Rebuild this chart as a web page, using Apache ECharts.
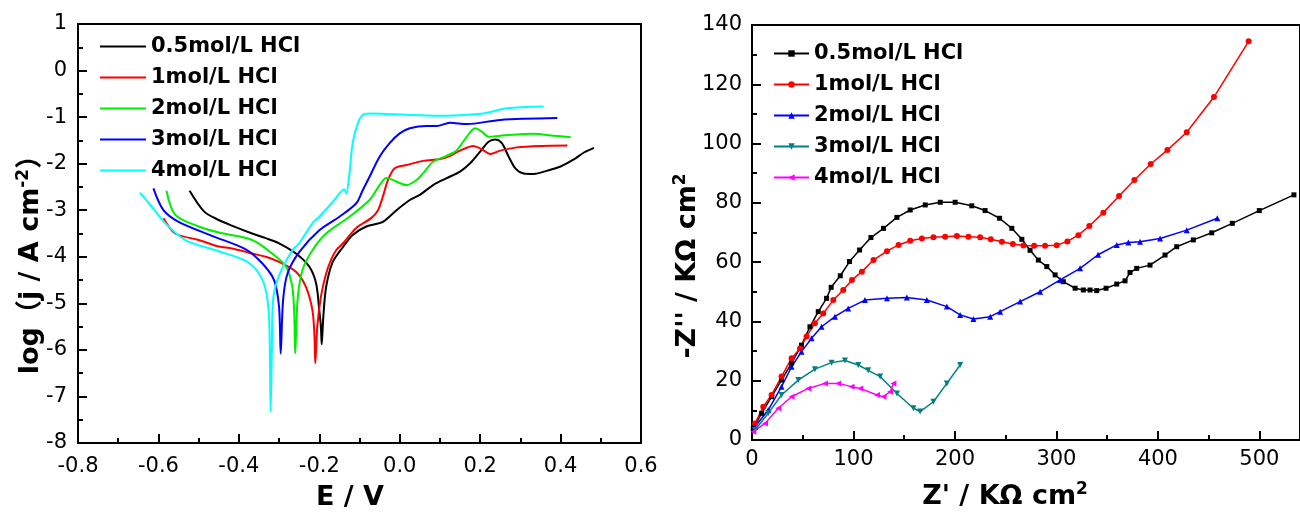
<!DOCTYPE html>
<html>
<head>
<meta charset="utf-8">
<script src="https://cdn.jsdelivr.net/npm/echarts@6/dist/echarts.min.js"></script>
<style>
    html, body { margin: 0; padding: 0; background: #fff; }
    #chart { width: 1300px; height: 513px; }
</style>
</head>
<body>
<div id="chart"></div>
<script>
// 极化曲线 (Tafel): E / V 和 log j
const tafelNames = ['0.5mol/L HCl', '1mol/L HCl', '2mol/L HCl', '3mol/L HCl', '4mol/L HCl'];
const tafelE05 = [-0.5225, -0.486, -0.45, -0.4175, -0.367, -0.333, -0.3, -0.258, -0.225, -0.208, -0.2, -0.196, -0.194, -0.19, -0.183, -0.167, -0.142, -0.117, -0.083, -0.042, -0.008, 0.025, 0.05, 0.083, 0.117, 0.15, 0.175, 0.2, 0.221, 0.2375, 0.254, 0.271, 0.2875, 0.308, 0.333, 0.367, 0.4, 0.433, 0.458, 0.483];
const tafelJ05 = [-2.58, -3.03, -3.21, -3.33, -3.5, -3.6, -3.71, -3.93, -4.21, -4.57, -5.15, -5.5, -5.88, -5.29, -4.65, -4.12, -3.8, -3.53, -3.35, -3.25, -3.0, -2.78, -2.67, -2.46, -2.31, -2.17, -1.99, -1.74, -1.53, -1.48, -1.56, -1.85, -2.1, -2.21, -2.22, -2.15, -2.06, -1.91, -1.76, -1.66];
const tafelE1 = [-0.5875, -0.558, -0.5, -0.45, -0.417, -0.367, -0.333, -0.3, -0.258, -0.233, -0.217, -0.212, -0.21, -0.205, -0.196, -0.183, -0.171, -0.158, -0.142, -0.108, -0.071, -0.054, -0.042, -0.029, -0.0125, 0.017, 0.058, 0.1, 0.121, 0.15, 0.183, 0.204, 0.225, 0.25, 0.292, 0.35, 0.417];
const tafelJ1 = [-3.17, -3.5, -3.64, -3.78, -3.82, -3.93, -4.0, -4.11, -4.32, -4.65, -5.15, -5.7, -6.29, -5.5, -4.86, -4.36, -4.07, -3.86, -3.72, -3.38, -3.17, -3.0, -2.71, -2.35, -2.1, -2.03, -1.94, -1.9, -1.85, -1.72, -1.62, -1.69, -1.79, -1.72, -1.65, -1.62, -1.61];
const tafelE2 = [-0.58, -0.558, -0.5, -0.45, -0.367, -0.317, -0.283, -0.267, -0.262, -0.26, -0.254, -0.242, -0.217, -0.183, -0.125, -0.075, -0.05, -0.033, 0.017, 0.042, 0.058, 0.083, 0.117, 0.142, 0.167, 0.1875, 0.204, 0.221, 0.25, 0.333, 0.383, 0.425];
const tafelJ2 = [-2.58, -3.1, -3.35, -3.48, -3.64, -3.93, -4.21, -4.65, -5.3, -6.08, -4.93, -4.29, -3.86, -3.5, -3.14, -2.78, -2.46, -2.31, -2.46, -2.35, -2.21, -1.96, -1.83, -1.71, -1.42, -1.24, -1.31, -1.42, -1.4, -1.36, -1.4, -1.43];
const tafelE3 = [-0.6125, -0.5875, -0.55, -0.467, -0.383, -0.342, -0.3125, -0.3, -0.296, -0.29, -0.279, -0.25, -0.2, -0.15, -0.108, -0.092, -0.075, -0.05, -0.025, 0, 0.025, 0.067, 0.092, 0.125, 0.167, 0.25, 0.392];
const tafelJ3 = [-2.53, -3.0, -3.25, -3.55, -3.84, -4.14, -4.5, -5.08, -6.08, -4.93, -4.36, -3.9, -3.43, -3.14, -2.85, -2.57, -2.28, -1.85, -1.56, -1.35, -1.24, -1.19, -1.19, -1.12, -1.15, -1.06, -1.02];
const tafelE4 = [-0.646, -0.617, -0.583, -0.533, -0.45, -0.383, -0.35, -0.333, -0.325, -0.3225, -0.321, -0.318, -0.315, -0.3, -0.267, -0.25, -0.217, -0.2, -0.1625, -0.146, -0.138, -0.133, -0.125, -0.117, -0.104, -0.092, -0.075, 0.083, 0.208, 0.267, 0.358];
const tafelJ4 = [-2.62, -2.92, -3.28, -3.64, -3.88, -4.09, -4.36, -4.72, -5.29, -6.4, -7.33, -6.0, -4.93, -4.4, -3.86, -3.71, -3.28, -3.14, -2.78, -2.6, -2.55, -2.64, -2.21, -1.56, -1.13, -0.95, -0.92, -0.97, -0.92, -0.81, -0.77];

// 交流阻抗 (Nyquist): Z' 和 -Z''
const nyqZr05 = [1.3, 9.5, 19.3, 29.1, 39, 48.8, 57.1, 65.3, 73.5, 78, 87, 96.1, 106, 117.2, 129.6, 142.8, 155.9, 170.7, 185.5, 200.2, 216.6, 229.7, 244, 256, 265.9, 274, 282.2, 290.5, 298.7, 306.8, 318.4, 326.5, 333.1, 339.7, 348.9, 359.4, 367.6, 372.5, 379.1, 392.2, 407, 418.5, 434.9, 453, 473.3, 499.9, 534];
const nyqZi05 = [3.9, 9, 14.6, 20.2, 25.9, 32, 38.2, 43.3, 47.8, 51.5, 55.4, 60.2, 64.1, 68.3, 71.4, 75.1, 77.6, 79.3, 80.2, 80.2, 79, 77.4, 74.8, 71.4, 67.7, 64, 60.7, 58.5, 55.7, 53.4, 51.2, 50.6, 50.6, 50.4, 51.2, 52.6, 53.7, 56.5, 57.9, 59, 62.4, 65.2, 67.5, 69.9, 73.1, 77.4, 82.7];
const nyqZr1 = [3, 11.1, 19.3, 29.1, 39, 47.3, 53.8, 62, 70.2, 80.1, 89.9, 98.5, 108.3, 119.7, 133, 144.4, 155.9, 167.4, 178.8, 190.3, 201.9, 213.3, 224.8, 235.3, 246.2, 257, 267.5, 278, 288.8, 300.3, 310.8, 321.6, 332.4, 346.2, 361.7, 376.8, 392.9, 409.3, 428.4, 455.2, 489.4];
const nyqZi1 = [5.6, 11.2, 15.2, 21.4, 27.6, 30.9, 34.9, 39.4, 42.7, 47.2, 50.6, 54, 56.8, 60.7, 63.7, 65.8, 67.2, 68, 68.4, 68.6, 68.8, 68.6, 68.4, 67.7, 66.9, 66.1, 65.6, 65.5, 65.5, 65.7, 67, 69.1, 72.2, 76.7, 82.3, 87.7, 93.1, 97.8, 103.8, 115.7, 134.5];
const nyqZr2 = [3, 16, 29.1, 39, 48.8, 58.7, 68.5, 81.7, 94.8, 111.3, 133, 152.6, 172.3, 192, 205.1, 218.2, 234.7, 244.5, 264.2, 283.9, 303.6, 323.3, 341, 359.4, 370.9, 382.4, 402.1, 428.4, 458.5];
const nyqZi2 = [4.5, 10.1, 18, 24.7, 29.8, 34.3, 38.2, 41.6, 44.4, 47.2, 47.8, 48.1, 47.2, 45, 42.2, 40.8, 41.6, 43.3, 46.7, 50, 54, 57.9, 62.5, 65.8, 66.6, 66.9, 68, 70.8, 74.8];
const nyqZr3 = [3, 16, 29.1, 45.6, 62, 78.4, 91.6, 104.7, 114.5, 126.3, 142.8, 159.1, 165.7, 178.8, 192, 205.1];
const nyqZi3 = [3.4, 9, 15.2, 20.2, 23.9, 26.1, 26.8, 25.3, 23.5, 21.4, 15.7, 10.7, 9.6, 12.9, 19.1, 25.3];
const nyqZr4 = [1.3, 12.8, 25.9, 39, 55.4, 71.9, 85, 98.1, 106.6, 123.1, 129.6, 136.2, 139.4];
const nyqZi4 = [2.8, 5.6, 10.7, 14.6, 17.4, 19.1, 19.1, 18, 17.4, 15.2, 14.6, 16.3, 19.1];

const tafelColors = ['#000000', '#ff0000', '#00ee00', '#0000ff', '#00ffff'];
const nyqColors = ['#000000', '#ff0000', '#0000ff', '#008080', '#ff00ff'];
const nyqSymbols = ['rect', 'circle', 'triangle', 'triangle', 'triangle'];
const nyqRotate = [0, 0, 0, 180, 90];

const zip = (xs, ys) => xs.map((x, i) => [x, ys[i]]);
const tafelData = [zip(tafelE05, tafelJ05), zip(tafelE1, tafelJ1), zip(tafelE2, tafelJ2), zip(tafelE3, tafelJ3), zip(tafelE4, tafelJ4)];
const nyqData = [zip(nyqZr05, nyqZi05), zip(nyqZr1, nyqZi1), zip(nyqZr2, nyqZi2), zip(nyqZr3, nyqZi3), zip(nyqZr4, nyqZi4)];
// 右图图例名称加空格, 避免和左图同名
const nyqNames = tafelNames.map((n) => n + ' ');

const FONT = '"DejaVu Sans", "Noto Sans CJK SC", sans-serif';

function makeAxis (gridIndex, position, min, max, interval, opt) {
    return Object.assign({
        type: 'value',
        gridIndex: gridIndex,
        position: position,
        min: min,
        max: max,
        interval: interval,
        splitLine: { show: false },
        axisLine: { onZero: false, lineStyle: { color: '#000', width: 2 } },
        axisTick: { inside: true, length: 9, lineStyle: { color: '#000', width: 2 } },
        axisLabel: { color: '#000', fontSize: 21, fontFamily: FONT }
    }, opt);
}

// 次刻度用一条不带标签的轴画, 保证朝内
function minorAxis (gridIndex, position, min, max, interval) {
    return makeAxis(gridIndex, position, min, max, interval, {
        axisLine: { show: false, onZero: false },
        axisLabel: { show: false },
        axisTick: { inside: true, length: 5, lineStyle: { color: '#000', width: 2 } }
    });
}

const chart = echarts.init(document.getElementById('chart'));
const option = {
    animation: false,
    backgroundColor: '#fff',
    grid: [
        { left: 78, right: 659, top: 24, bottom: 70, show: true, borderColor: '#000', borderWidth: 2 },
        { left: 752, right: -2, top: 25, bottom: 73, show: true, borderColor: '#000', borderWidth: 2 }
    ],
    xAxis: [
        makeAxis(0, 'bottom', -0.8, 0.6, 0.2, {}),
        makeAxis(1, 'bottom', 0, 540, 100, {}),
        minorAxis(0, 'bottom', -0.8, 0.6, 0.1),
        minorAxis(1, 'bottom', 0, 540, 50)
    ],
    yAxis: [
        makeAxis(0, 'left', -8, 1, 1, {}),
        makeAxis(1, 'left', 0, 140, 20, {}),
        minorAxis(0, 'left', -8, 1, 0.5),
        minorAxis(1, 'left', 0, 140, 10)
    ],
    legend: [
        {
            data: tafelNames,
            orient: 'vertical',
            left: 99,
            top: 36,
            padding: 0,
            itemWidth: 46,
            itemHeight: 14,
            itemGap: 10,
            itemStyle: { opacity: 0 },
            textStyle: { color: '#000', fontSize: 21, fontWeight: 'bold', fontFamily: FONT, lineHeight: 21 }
        },
        {
            data: nyqNames,
            orient: 'vertical',
            left: 773,
            top: 43,
            padding: 0,
            itemWidth: 35,
            itemHeight: 8,
            itemGap: 10,
            textStyle: { color: '#000', fontSize: 21, fontWeight: 'bold', fontFamily: FONT, lineHeight: 21 }
        }
    ],
    graphic: [
        {
            type: 'text', x: 350, y: 498,
            style: { text: 'E / V', fill: '#000', font: 'bold 27px ' + FONT, align: 'center', verticalAlign: 'middle' }
        },
        {
            type: 'text', x: 1005, y: 497,
            style: {
                text: '{a|Z\' / KΩ cm}{s|2}', align: 'center', verticalAlign: 'middle',
                rich: {
                    a: { fill: '#000', fontSize: 27, fontWeight: 'bold', fontFamily: FONT, lineHeight: 32 },
                    s: { fill: '#000', fontSize: 17, fontWeight: 'bold', fontFamily: FONT, verticalAlign: 'top', lineHeight: 17 }
                }
            }
        },
        {
            type: 'text', x: 31, y: 258, rotation: Math.PI / 2,
            style: {
                text: '{a|log（j / A cm}{s|-2}{a|）}', align: 'center', verticalAlign: 'middle',
                rich: {
                    a: { fill: '#000', fontSize: 27, fontWeight: 'bold', fontFamily: FONT, lineHeight: 32 },
                    s: { fill: '#000', fontSize: 17, fontWeight: 'bold', fontFamily: FONT, verticalAlign: 'top', lineHeight: 17 }
                }
            }
        },
        {
            type: 'text', x: 688, y: 266, rotation: Math.PI / 2,
            style: {
                text: '{a|-Z\'\' / KΩ cm}{s|2}', align: 'center', verticalAlign: 'middle',
                rich: {
                    a: { fill: '#000', fontSize: 27, fontWeight: 'bold', fontFamily: FONT, lineHeight: 32 },
                    s: { fill: '#000', fontSize: 17, fontWeight: 'bold', fontFamily: FONT, verticalAlign: 'top', lineHeight: 17 }
                }
            }
        }
    ],
    series: []
};

option.xAxis[0].axisLabel.formatter = (v) => v.toFixed(1);
option.xAxis[0].axisLabel.margin = 13;
option.yAxis[0].axisLabel.margin = 11;
option.xAxis[1].axisLabel.margin = 9;
option.xAxis[1].axisLabel.showMaxLabel = false;
option.yAxis[1].axisLabel.margin = 10;

tafelData.forEach((data, i) => {
    option.series.push({
        name: tafelNames[i],
        type: 'line',
        xAxisIndex: 0,
        yAxisIndex: 0,
        data: data,
        symbol: 'none',
        smooth: 0.3,
        color: tafelColors[i],
        lineStyle: { color: tafelColors[i], width: 2 }
    });
});

nyqData.forEach((data, i) => {
    option.series.push({
        name: nyqNames[i],
        type: 'line',
        xAxisIndex: 1,
        yAxisIndex: 1,
        data: data,
        symbol: nyqSymbols[i],
        symbolRotate: nyqRotate[i],
        symbolSize: i === 0 ? 5 : 6,
        color: nyqColors[i],
        itemStyle: { color: nyqColors[i] },
        lineStyle: { color: nyqColors[i], width: 1.5 }
    });
});

chart.setOption(option);
</script>
</body>
</html>
